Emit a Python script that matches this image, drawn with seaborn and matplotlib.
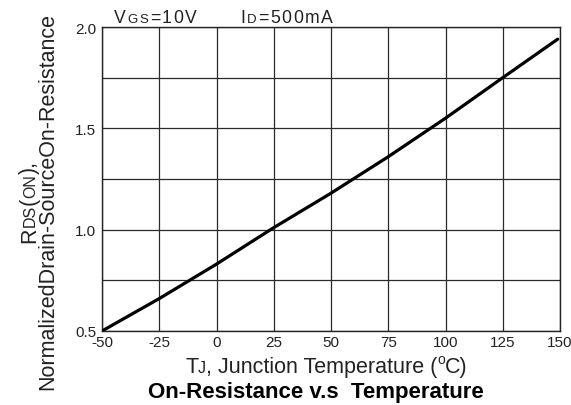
import matplotlib
matplotlib.use("Agg")
import matplotlib.pyplot as plt
import seaborn as sns
import numpy as np
from matplotlib.transforms import IdentityTransform
from matplotlib.ticker import MultipleLocator

temps = [-50, -25, 0, 25, 50, 75, 100, 125, 149]
rds_norm = [0.50, 0.66, 0.83, 1.01, 1.18, 1.36, 1.55, 1.75, 1.94]
x_ticks = [-50, -25, 0, 25, 50, 75, 100, 125, 150]
y_ticks = [0.5, 1.0, 1.5, 2.0]

sns.set_theme(style="white")
plt.rcParams['font.family'] = ['Liberation Sans', 'DejaVu Sans']

W, H = 571, 406
fig = plt.figure(figsize=(W / 100, H / 100), dpi=100)
ax = fig.add_axes([102 / W, 1 - 332 / H, (560 - 102) / W, (332 - 28) / H])

sns.lineplot(x=temps, y=rds_norm, ax=ax, color='black', linewidth=2.3, zorder=5)

ax.set_xlim(-50, 150)
ax.set_ylim(0.5, 2.0)
ax.set_xticks(x_ticks)
ax.set_xticklabels([str(t) for t in x_ticks])
ax.set_yticks(y_ticks)
ax.set_yticklabels([f"{v:.1f}" for v in y_ticks])
ax.yaxis.set_minor_locator(MultipleLocator(0.25))
ax.grid(True, which='both', color='#2a2a2a', linewidth=0.9)
ax.tick_params(which='both', length=0, labelsize=11, colors='#222222')
ax.tick_params(axis='x', pad=3)
ax.tick_params(axis='y', pad=4)
for s in ax.spines.values():
    s.set_color('#222222')
    s.set_linewidth(1.0)
ax.set_xlabel('')
ax.set_ylabel('')

renderer = fig.canvas.get_renderer()
ID = IdentityTransform()


def chain(x0, y0, parts, rotation=0, color='#222222', weight='normal', spacing=0.0):
    """parts: list of (text, size, rise_px). Chained along baseline.
    Horizontal: (x0, y0) = start of baseline in image px.
    Rotated 90: x0 = baseline x, y0 = start (bottom) in image px."""
    pos = x0 if rotation == 0 else y0
    for txt, size, rise in parts:
        pieces = list(txt) if spacing else [txt]
        for p in pieces:
            if rotation == 0:
                t = fig.text(pos, H - y0 + rise, p, transform=ID, fontsize=size,
                             ha='left', va='baseline', color=color, weight=weight)
                pos += t.get_window_extent(renderer).width + spacing
            else:
                t = fig.text(x0 - rise, H - pos, p, transform=ID, fontsize=size,
                             rotation=90, rotation_mode='anchor',
                             ha='left', va='baseline', color=color, weight=weight)
                pos -= t.get_window_extent(renderer).height + spacing
    return pos


# Header annotations
chain(114, 23, [("V", 12.7, 0), ("GS", 9.5, 0), ("=10V", 12.7, 0)], spacing=1.6)
chain(240, 23, [("I", 12.7, 0), ("D", 9.5, 0), ("=500mA", 12.7, 0)], spacing=1.7)

# X label
chain(185, 373, [("T", 15.5, 0), ("J", 11.5, 0), (", Junction Temperature (", 15.5, 0),
                 ("o", 10, 9), ("C)", 15.5, 0)])

# Title
fig.text(316, H - 398, "On-Resistance v.s  Temperature", transform=ID, fontsize=16,
         weight='bold', ha='center', va='baseline', color='black')

# Y label (rotated, two lines)
chain(35, 243, [("R", 15.5, 0), ("DS", 11.5, 0), ("(", 15.5, 0), ("ON", 11.5, 0), ("),", 15.5, 0)],
      rotation=90)
chain(53, 390, [("NormalizedDrain-SourceOn-Resistance", 15.5, 0)], rotation=90)

fig.savefig("out.png", dpi=100)
